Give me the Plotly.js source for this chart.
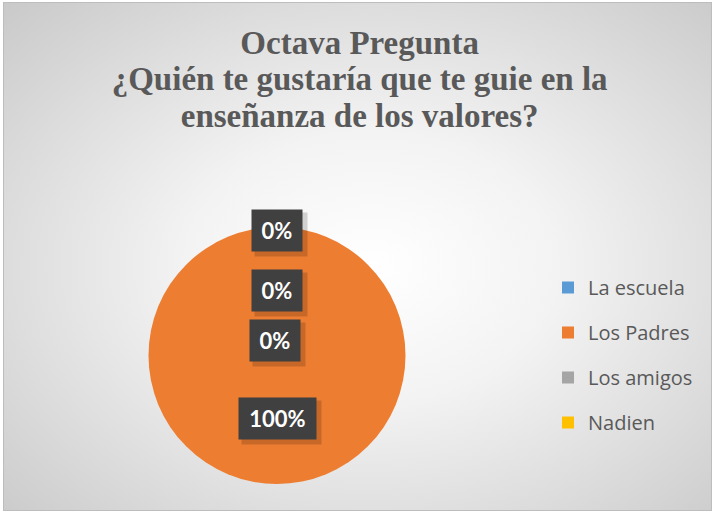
<!DOCTYPE html>
<html>
<head>
<meta charset="utf-8">
<script src="https://cdn.plot.ly/plotly-3.0.1.min.js"></script>
<style>
  html, body { margin: 0; padding: 0; background: #ffffff; }
  #frame {
    position: absolute; left: 3px; top: 2px; width: 707px; height: 507px;
    border: 1px solid #bdbdbd;
    background: radial-gradient(ellipse 75% 75% at 52% 52%, #ffffff 0%, #f3f3f3 35%, #dcdcdc 70%, #c8c8c8 100%);
  }
  #chart { position: absolute; left: 0; top: 0; width: 715px; height: 514px; }
</style>
</head>
<body>
<div id="frame"></div>
<div id="chart"></div>
<script>
// ---- data ----
const categories = ["La escuela", "Los Padres", "Los amigos", "Nadien"];
const values = [0, 100, 0, 0];
const colors = ["#5B9BD5", "#ED7D31", "#A5A5A5", "#FFC000"];
const titleLines = ["Octava Pregunta", "¿Quién te gustaría que te guie en la", "enseñanza de los valores?"];

// ---- layout helpers (pixel -> paper) ----
const W = 715, H = 514;
const px = x => x / W;
const py = y => 1 - y / H;

const total = values.reduce((a, b) => a + b, 0);
const pctText = values.map(v => Math.round(v / total * 100) + "%");

// the pie itself
const pie = {
  type: "pie",
  labels: categories,
  values: values,
  marker: { colors: colors, line: { width: 0 } },
  textinfo: "none",
  hoverinfo: "label+percent",
  sort: false,
  showlegend: false,
  domain: { x: [px(148), px(406)], y: [py(484), py(227)] }
};

// legend entries (one per category, in separate groups so they can be spaced like the original)
const legendTraces = categories.map((c, i) => ({
  type: "scatter", mode: "markers",
  x: [null], y: [null],
  name: c,
  legendgroup: "g" + i,
  marker: { symbol: "square", size: 12, color: colors[i], line: { width: 0 } },
  hoverinfo: "skip"
}));

// label boxes (Excel-style data labels)
const labelPos = [[277, 230.5, 50], [277, 290, 50], [275, 340.5, 50], [277, 418.5, 77]];
const labelOrder = [0, 2, 3, 1];
const annotations = [];
labelOrder.forEach((idx, k) => {
  const p = labelPos[k];
  annotations.push({
    xref: "paper", yref: "paper", x: px(p[0] + 4), y: py(p[1] + 4),
    xanchor: "center", yanchor: "middle",
    text: " ", showarrow: false, width: p[2], height: 41,
    bgcolor: "rgba(0,0,0,0.16)", font: { size: 20 }
  });
  annotations.push({
    xref: "paper", yref: "paper", x: px(p[0]), y: py(p[1]),
    xanchor: "center", yanchor: "middle",
    text: "<b>" + pctText[idx] + "</b>", showarrow: false, width: p[2], height: 41,
    bgcolor: "#404040", borderpad: 0,
    font: { family: "Lato, 'Open Sans', sans-serif", size: 22, color: "#ffffff" }
  });
});

const layout = {
  width: W, height: H,
  margin: { l: 0, r: 0, t: 0, b: 0 },
  paper_bgcolor: "rgba(0,0,0,0)",
  plot_bgcolor: "rgba(0,0,0,0)",
  xaxis: { visible: false },
  yaxis: { visible: false },
  title: {
    text: titleLines.map(l => '<span style="font-size:33px"><b>' + l + '</b></span>').join("<br>"),
    x: 0.503, xanchor: "center",
    y: py(54), yanchor: "top",
    font: { family: "'Liberation Serif', 'Times New Roman', serif", size: 28, color: "#595959" }
  },
  showlegend: true,
  legend: {
    x: px(548), xanchor: "left",
    y: py(268), yanchor: "top",
    font: { family: "'Open Sans', Lato, sans-serif", size: 20, color: "#595959" },
    bgcolor: "rgba(0,0,0,0)",
    tracegroupgap: 16,
    traceorder: "grouped"
  },
  annotations: annotations
};

Plotly.newPlot("chart", [pie].concat(legendTraces), layout, { displayModeBar: false, staticPlot: true });
</script>
</body>
</html>
